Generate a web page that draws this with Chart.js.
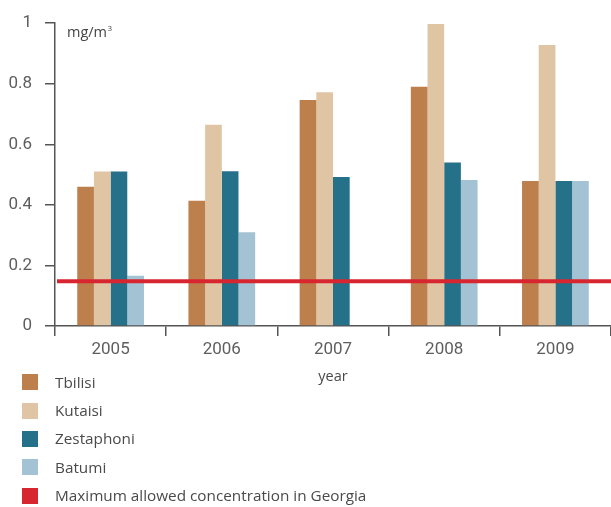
<!DOCTYPE html>
<html>
<head>
<meta charset="utf-8">
<script src="https://cdn.jsdelivr.net/npm/chart.js@4"></script>
<style>
  html, body { margin: 0; padding: 0; background: #fff; }
  #wrap { position: relative; width: 611px; height: 507px; }
  #chart { display: block; }
  #legend { position: absolute; left: 22px; top: 368px; font-family: 'Open Sans', sans-serif; font-size: 15.3px; color: #4a4a4a; }
  .item { display: flex; align-items: center; height: 28.4px; line-height: 1; }
  .box { width: 16px; height: 16px; margin-right: 17px; }
</style>
</head>
<body>
<div id="wrap">
  <canvas id="chart" width="611" height="507"></canvas>
  <div id="legend"></div>
</div>
<script>
const years = ['2005', '2006', '2007', '2008', '2009'];
const tbilisi = [0.46, 0.414, 0.746, 0.79, 0.479];
const kutaisi = [0.51, 0.665, 0.772, 0.997, 0.928];
const zestaphoni = [0.51, 0.511, 0.492, 0.54, 0.479];
const batumi = [0.166, 0.31, null, 0.482, 0.479];
const maxAllowed = 0.148;
const yTicks = [0, 0.2, 0.4, 0.6, 0.8, 1];

const colors = {
  tbilisi: '#bd7f4c',
  kutaisi: '#dfc5a4',
  zestaphoni: '#26718a',
  batumi: '#a3c2d3',
  limit: '#d7262f',
  axis: '#555555',
  text: '#5e5e5e',
};

const series = [
  { label: 'Tbilisi', data: tbilisi, color: colors.tbilisi },
  { label: 'Kutaisi', data: kutaisi, color: colors.kutaisi },
  { label: 'Zestaphoni', data: zestaphoni, color: colors.zestaphoni },
  { label: 'Batumi', data: batumi, color: colors.batumi },
];

// red limit line + unit label
const extras = {
  id: 'extras',
  afterDatasetsDraw(chart) {
    const { ctx, chartArea, scales } = chart;
    const y = scales.y.getPixelForValue(maxAllowed);
    ctx.save();
    ctx.strokeStyle = colors.limit;
    ctx.lineWidth = 4;
    ctx.beginPath();
    ctx.moveTo(chartArea.left + 2, y);
    ctx.lineTo(chartArea.right, y);
    ctx.stroke();
    ctx.fillStyle = '#444';
    ctx.font = "14.5px 'Open Sans'";
    ctx.textBaseline = 'alphabetic';
    ctx.fillText('mg/m', chartArea.left + 12, chartArea.top + 14);
    const w = ctx.measureText('mg/m').width;
    ctx.font = "8px 'Open Sans'";
    ctx.fillText('3', chartArea.left + 12 + w + 0.5, chartArea.top + 8);
    ctx.restore();
  }
};

new Chart(document.getElementById('chart'), {
  type: 'bar',
  data: {
    labels: years,
    datasets: series.map(s => ({
      label: s.label,
      data: s.data,
      backgroundColor: s.color,
      borderWidth: 0,
      barPercentage: 1,
      categoryPercentage: 0.6,
    }))
  },
  options: {
    responsive: false,
    animation: false,
    layout: { padding: { top: 19, right: 0, left: 0, bottom: 121 } },
    plugins: { legend: { display: false }, tooltip: { enabled: false } },
    scales: {
      x: {
        offset: true,
        grid: { offset: true, drawOnChartArea: false, color: colors.axis, tickLength: 10, lineWidth: 1.5 },
        border: { color: colors.axis, width: 1.5 },
        ticks: { color: colors.text, font: { family: 'Roboto', size: 17 }, padding: 4 },
        title: { display: true, text: 'year', color: '#4a4a4a', font: { family: 'Open Sans', size: 14.5 }, padding: { top: 0, bottom: 0 } },
        afterFit: s => { s.height = 60; }
      },
      y: {
        min: 0,
        max: 1,
        afterBuildTicks: s => { s.ticks = yTicks.map(v => ({ value: v })); },
        grid: { drawOnChartArea: false, color: colors.axis, tickLength: 10, lineWidth: 1.5 },
        border: { color: colors.axis, width: 1.5 },
        ticks: { color: colors.text, font: { family: 'Roboto', size: 17 }, padding: 13, callback: v => String(v) },
        afterFit: s => { s.width = 55; }
      }
    }
  },
  plugins: [extras]
});

// legend
const legend = document.getElementById('legend');
const legendItems = series.map(s => [s.label, s.color]).concat([['Maximum allowed concentration in Georgia', colors.limit]]);
legendItems.forEach(([label, color]) => {
  const row = document.createElement('div');
  row.className = 'item';
  row.innerHTML = `<span class="box" style="background:${color}"></span><span>${label}</span>`;
  legend.appendChild(row);
});
</script>
</body>
</html>
